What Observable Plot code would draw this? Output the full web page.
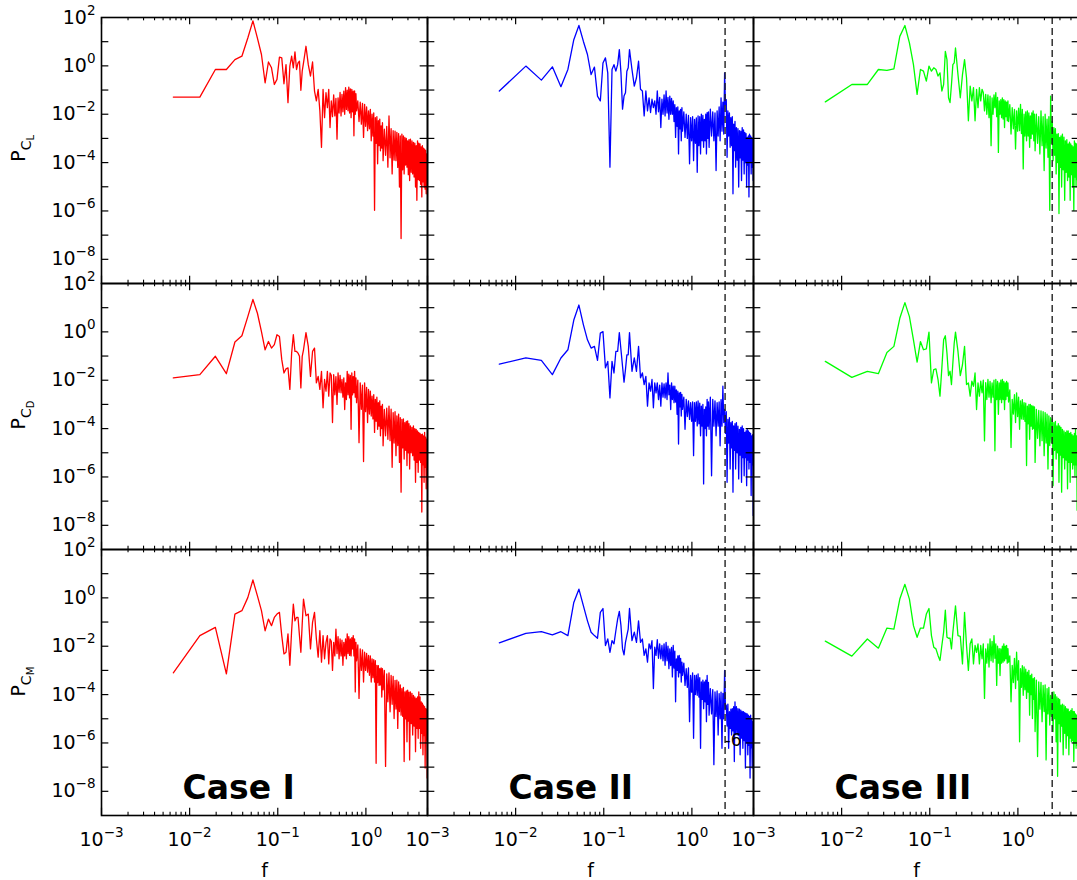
<!DOCTYPE html>
<html><head><meta charset="utf-8">
<script src="https://cdn.jsdelivr.net/npm/d3@7"></script>
<script src="https://cdn.jsdelivr.net/npm/@observablehq/plot@0.6"></script>
<style>
html,body{margin:0;padding:0;background:#fff;overflow:hidden;}
#chart{position:relative;width:1077px;height:880px;overflow:hidden;}
#err{color:red;font:16px sans-serif;position:absolute;top:0;left:0;}
</style></head><body><div id="chart"></div><div id="err"></div>
<script>
// ---------- data ----------
const cases = ["Case I", "Case II", "Case III"];
const coefs = ["C_L", "C_D", "C_M"];
const caseColors = ["#ff0000", "#0000ff", "#00ff00"];
const df = 0.00653;           // frequency resolution
const harmonics = [
  1,2,3,4,5,6,7,8,9,10,
  11,12,13,14,15,16,17,18,19,20,
  21,22,23,24,25,26,27,28,29,30,
  32,34,36,38,40,42,44,46,48,50,52,54,56,58,60,
  62,64,66,68,70,72,74,76,78,80,82,84,86,88,90,92,94,96,98,100,102,104,106,108,110,112,114,116,118,120,
  124,128,132,136,140,144,148,152,156,160,164,168,172,176,180,184,188,192,196,200,204,208,212,216,220,224,228,232,236,240,
  248,256,264,272,280,288,296,304,312,320,328,336,344,352,360,368,376,384,392,400,408,416,424,432,440,448,456,464,472,480,
  490,500,510,520,530,540,550,560,570,580,590,600,610,620,630,640,650,660,670,680,690,700,710,720,730,740,750,760];

// log10 of power spectral density
const logP_CL_I = [
  -1.29,-1.29,-0.15,-0.15,0.26,0.40,1.15,1.86,1.15,0.47,
  -0.70,0.16,-0.08,-0.77,-0.56,0.36,0.33,-0.74,0.05,-1.52,
  -0.01,0.40,-0.08,0.58,-0.15,0.12,0.19,-1.01,-0.22,0.12,
  0.81,0.05,-0.42,0.16,-1.04,-1.45,-0.97,-1.86,-3.37,-0.97,-2.14,-1.11,-1.73,-0.97,-2.55,
  -1.45,-2.10,-1.20,-2.07,-1.35,-3.03,-1.32,-1.95,-1.10,-2.07,-1.18,-1.90,-1.05,-2.00,-0.90,-1.80,-1.00,-1.86,-0.88,-1.95,-0.95,-2.14,-0.97,-1.90,-1.05,-2.89,-1.04,-2.00,-1.15,-1.86,
  -1.45,-2.30,-1.50,-2.41,-1.55,-2.96,-1.59,-2.50,-1.70,-2.68,-1.86,-2.60,-1.80,-3.10,-2.00,-2.90,-1.95,-5.97,-2.14,-3.20,-2.10,-4.05,-2.27,-3.30,-2.20,-3.51,-2.48,-3.40,-2.35,-3.92,
  -2.62,-3.70,-2.50,-4.19,-2.07,-3.80,-2.60,-4.47,-2.68,-3.90,-2.70,-3.92,-2.75,-4.20,-2.80,-5.01,-2.90,-7.14,-2.82,-4.30,-2.90,-4.47,-2.96,-4.10,-3.00,-4.19,-3.10,-4.50,-3.05,-4.74,
  -3.03,-4.40,-3.10,-4.47,-3.16,-4.60,-3.20,-5.01,-3.30,-5.56,-3.10,-4.70,-3.20,-4.74,-3.23,-4.90,-3.35,-5.42,-3.30,-4.80,-3.40,-5.01,-3.44,-5.10,-3.50,-5.29,-3.64,-5.00];
const logP_CL_II = [
  -1.04,-0.01,-0.59,-0.04,-0.86,-0.15,1.08,1.67,1.01,0.47,
  -0.36,-0.05,-1.25,-1.45,0.12,0.33,-0.29,-4.19,-0.15,0.05,
  -0.22,0.05,0.67,-0.29,-1.79,-1.25,-1.11,-0.22,-0.08,0.67,
  -0.15,-0.84,-0.49,0.19,-0.97,-1.04,-2.07,-1.04,-1.86,-1.32,-1.93,-1.38,-1.73,-1.45,-2.00,
  -1.04,-1.90,-1.30,-2.55,-1.38,-2.00,-1.20,-2.07,-1.04,-1.95,-1.30,-2.21,-1.25,-2.00,-1.35,-2.00,-1.45,-2.30,-1.60,-2.96,-1.73,-2.50,-1.70,-3.64,-1.86,-2.60,-1.80,-3.10,-1.73,-2.70,
  -1.90,-2.96,-2.00,-3.00,-2.05,-4.05,-2.14,-3.10,-2.10,-3.92,-2.21,-3.20,-2.15,-4.40,-2.07,-3.30,-2.10,-3.64,-2.00,-3.10,-2.05,-3.37,-2.21,-3.10,-2.00,-3.64,-1.93,-3.00,-1.90,-3.37,
  -1.79,-2.90,-1.90,-3.10,-1.95,-4.33,-1.86,-2.90,-1.70,-3.10,-1.32,-2.70,-1.50,-2.82,-0.29,-1.60,-1.40,-3.78,-1.86,-2.90,-1.95,-3.37,-2.14,-3.30,-2.10,-5.29,-2.41,-3.50,-2.30,-4.19,
  -2.55,-3.90,-2.60,-5.01,-2.68,-3.80,-2.70,-4.74,-2.55,-3.90,-2.65,-4.47,-2.75,-4.00,-2.80,-5.01,-2.96,-4.10,-2.90,-5.42,-2.82,-4.00,-2.90,-4.47,-2.96,-4.20,-3.00,-4.74];
const logP_CL_III = [
  -1.49,-0.77,-0.77,-0.15,-0.19,-0.12,1.22,1.67,0.95,0.05,
  -1.18,-0.15,-0.22,-0.63,-0.01,-0.22,-0.08,-0.15,-0.42,-0.29,
  -1.04,-0.77,0.60,0.26,-1.32,-1.52,-0.77,0.05,0.12,0.74,
  -0.36,-1.32,-0.36,0.26,-0.49,-2.27,-0.84,-1.45,-0.90,-2.27,-0.97,-1.73,-0.90,-1.45,-0.97,
  -1.10,-1.86,-1.18,-2.00,-1.20,-2.14,-1.25,-3.30,-1.32,-2.00,-1.20,-1.73,-1.11,-2.10,-1.30,-3.58,-1.45,-2.00,-1.40,-2.14,-1.32,-2.20,-1.40,-2.55,-1.45,-2.10,-1.50,-2.27,-1.45,-2.30,
  -1.60,-2.82,-1.73,-2.60,-1.80,-3.44,-1.86,-2.70,-1.75,-2.68,-1.59,-2.80,-1.80,-4.26,-2.00,-2.90,-1.90,-3.10,-1.86,-2.90,-1.95,-3.37,-2.07,-3.00,-1.95,-2.82,-1.86,-3.10,-2.00,-3.51,
  -2.00,-3.20,-2.10,-3.64,-1.86,-3.30,-2.10,-4.33,-2.00,-3.40,-2.20,-3.78,-2.10,-5.97,-1.25,-3.20,-2.30,-3.92,-2.55,-3.70,-2.60,-4.47,-2.82,-4.00,-2.80,-6.11,-2.96,-4.20,-2.90,-5.01,
  -2.82,-4.30,-2.95,-5.56,-3.10,-4.40,-3.05,-4.74,-3.23,-4.60,-3.15,-5.56,-3.23,-4.50,-3.30,-5.01,-3.35,-5.97,-3.10,-4.60,-3.20,-5.01,-3.23,-4.70,-3.30,-5.15,-3.37,-4.80];
const logP_CD_I = [
  -1.90,-1.77,-1.01,-1.73,-0.42,-0.16,0.63,1.34,0.77,0.01,
  -0.74,-0.40,-0.67,-0.53,-0.12,-0.19,-1.15,-1.70,-1.53,-1.49,
  -2.38,-0.88,-0.12,-0.81,-0.81,-0.88,-1.01,-2.32,-1.01,-0.74,
  -0.03,-0.60,-1.84,-0.81,-0.67,-2.11,-1.84,-2.38,-1.63,-3.14,-1.97,-2.45,-1.63,-2.66,-1.70,
  -1.80,-3.75,-1.77,-2.60,-1.85,-3.00,-1.70,-2.50,-1.80,-2.52,-1.97,-2.70,-1.90,-3.21,-2.11,-2.80,-1.63,-2.60,-1.75,-2.73,-1.80,-4.03,-1.70,-2.60,-1.85,-2.52,-1.63,-2.70,-1.90,-2.93,
  -2.00,-4.58,-2.11,-3.20,-2.20,-5.36,-2.11,-3.30,-2.30,-3.75,-2.38,-3.40,-2.45,-3.48,-2.66,-3.60,-2.60,-4.16,-2.79,-3.70,-2.70,-4.03,-2.93,-3.90,-2.85,-4.30,-3.07,-4.00,-3.00,-4.71,
  -3.21,-4.30,-3.15,-4.44,-3.07,-4.50,-3.20,-5.60,-3.34,-4.60,-3.30,-5.12,-3.48,-4.70,-3.40,-5.40,-3.55,-6.63,-3.62,-4.80,-3.60,-5.26,-3.75,-4.90,-3.70,-5.53,-3.68,-5.00,-3.80,-5.67,
  -3.89,-5.00,-3.95,-5.12,-3.89,-5.30,-4.00,-6.22,-4.03,-5.40,-4.10,-5.81,-4.16,-5.30,-4.20,-5.40,-4.25,-7.45,-4.23,-5.50,-4.30,-6.22,-4.16,-5.60,-4.35,-6.49,-4.44,-5.80];
const logP_CD_II = [
  -1.33,-1.08,-1.18,-1.77,-1.08,-0.74,0.49,1.11,0.29,-0.33,
  -0.67,-0.60,-1.18,-0.05,0.01,-1.49,-1.22,-2.73,-1.22,-1.70,
  -0.81,-0.81,-0.03,-0.74,-1.42,-2.08,-1.56,-0.95,-0.95,-0.03,
  -1.63,-1.08,-1.63,-0.60,-1.90,-1.70,-2.18,-1.84,-3.07,-2.11,-2.45,-1.97,-3.14,-2.11,-2.52,
  -2.11,-2.80,-2.20,-3.07,-2.11,-2.70,-2.15,-2.73,-2.11,-2.80,-1.70,-2.60,-2.20,-3.21,-2.11,-2.80,-2.25,-2.93,-2.25,-2.90,-2.40,-3.41,-2.45,-4.64,-2.52,-3.10,-2.50,-3.48,-2.59,-3.20,
  -2.70,-4.03,-2.79,-3.50,-2.85,-3.62,-2.93,-3.70,-2.90,-5.12,-2.93,-3.70,-2.90,-3.89,-2.86,-3.80,-2.95,-4.30,-3.07,-3.90,-3.00,-6.29,-3.21,-4.00,-3.10,-4.30,-2.79,-3.90,-2.90,-4.03,
  -2.70,-5.95,-2.79,-3.90,-2.85,-4.30,-2.93,-3.90,-2.90,-4.71,-2.80,-3.90,-2.25,-3.75,-3.21,-4.20,-3.30,-6.22,-3.62,-4.60,-3.55,-5.67,-3.75,-4.80,-3.70,-6.63,-3.89,-4.90,-3.80,-5.67,
  -3.75,-5.00,-3.90,-6.08,-4.03,-5.10,-3.95,-6.22,-3.89,-5.20,-4.00,-5.95,-4.16,-5.20,-4.10,-6.36,-4.03,-5.30,-4.10,-5.67,-4.16,-5.40,-4.20,-6.77,-4.30,-5.50,-4.25,-7.59];
const logP_CD_III = [
  -1.22,-1.88,-1.63,-1.73,-0.85,-0.60,0.56,1.21,0.63,-0.33,
  -1.25,-0.40,-0.74,-0.70,-0.01,-2.11,-1.56,-1.53,-1.97,-2.66,
  -1.49,-0.33,-0.16,-0.88,-1.81,-1.63,-2.18,-1.29,-0.47,-0.01,
  -0.81,-1.81,-1.36,-0.60,-2.18,-2.11,-2.66,-2.04,-2.25,-1.70,-3.21,-2.11,-2.66,-2.04,-2.52,
  -2.00,-4.51,-2.10,-2.80,-1.97,-2.70,-2.05,-2.93,-2.11,-2.70,-2.00,-4.92,-1.97,-2.80,-2.05,-3.41,-2.11,-2.80,-2.00,-2.93,-1.97,-2.80,-2.05,-3.21,-2.11,-2.80,-2.05,-2.66,-2.11,-2.90,
  -2.40,-4.78,-2.79,-3.40,-2.60,-3.75,-2.52,-3.50,-2.70,-4.03,-2.86,-3.60,-2.80,-3.62,-2.93,-3.70,-2.95,-5.53,-3.07,-3.80,-3.00,-4.44,-3.00,-3.90,-3.05,-4.03,-3.07,-4.00,-3.10,-5.40,
  -3.21,-4.40,-3.25,-4.71,-3.27,-4.50,-3.30,-5.12,-3.34,-4.60,-3.40,-5.67,-3.48,-4.70,-3.55,-4.58,-3.60,-6.36,-3.75,-4.90,-3.70,-5.26,-3.89,-5.00,-3.80,-6.22,-3.89,-5.10,-3.95,-6.63,
  -4.03,-5.20,-4.10,-5.67,-4.16,-5.30,-4.10,-6.49,-4.10,-5.40,-4.20,-6.22,-4.16,-5.40,-4.25,-5.67,-4.30,-5.50,-4.20,-5.95,-4.03,-5.50,-4.30,-7.38,-4.44,-5.60,-4.35,-6.22];
const logP_CM_I = [
  -3.10,-1.56,-1.22,-3.14,-0.67,-0.53,0.01,0.74,0.08,-0.53,
  -1.36,-0.88,-1.15,-0.81,-0.67,-0.60,-1.56,-2.32,-2.25,-1.49,
  -2.79,-1.36,-0.26,-0.95,-0.81,-0.81,-1.56,-2.25,-1.08,-0.05,
  -0.74,-0.67,-2.11,-1.01,-0.60,-1.70,-2.45,-1.36,-2.66,-1.56,-2.52,-1.84,-1.56,-2.73,-1.70,
  -1.80,-3.00,-1.84,-2.40,-1.29,-2.30,-1.60,-2.52,-1.70,-2.40,-1.75,-2.79,-1.84,-2.40,-1.70,-2.52,-1.49,-2.30,-1.60,-2.38,-1.70,-2.40,-1.65,-2.11,-1.56,-2.40,-1.70,-3.89,-1.84,-2.60,
  -1.95,-4.16,-2.11,-3.00,-2.15,-3.48,-2.25,-3.00,-2.30,-3.07,-2.38,-3.20,-2.40,-3.48,-2.52,-3.30,-2.55,-3.48,-2.60,-6.84,-2.79,-3.50,-2.80,-3.62,-2.93,-3.60,-2.90,-4.10,-2.93,-3.80,
  -3.00,-6.97,-3.14,-4.30,-3.10,-4.71,-3.21,-4.40,-3.25,-4.99,-3.41,-4.60,-3.40,-5.40,-3.48,-4.70,-3.60,-4.85,-3.75,-4.90,-3.70,-6.77,-3.89,-5.00,-3.85,-5.95,-3.82,-5.10,-3.90,-6.70,
  -3.89,-5.20,-3.95,-5.67,-4.03,-5.30,-4.10,-6.36,-4.16,-5.40,-4.10,-5.81,-3.89,-5.40,-4.10,-6.22,-4.30,-5.60,-4.35,-6.49,-4.44,-5.70,-4.50,-7.04,-4.58,-5.90,-4.60,-7.45];
const logP_CM_II = [
  -1.86,-1.47,-1.40,-1.53,-1.40,-1.56,-0.19,0.36,-0.33,-0.95,
  -1.42,-1.56,-1.67,-0.60,-0.44,-1.97,-1.70,-2.25,-1.77,-1.90,
  -1.36,-0.88,-0.56,-1.15,-2.11,-2.36,-1.84,-1.56,-1.29,-0.44,
  -1.77,-1.42,-1.84,-0.95,-1.84,-1.70,-2.38,-2.11,-2.66,-1.90,-2.11,-1.77,-3.75,-2.04,-2.38,
  -1.73,-2.50,-1.90,-2.52,-1.97,-2.60,-1.90,-2.79,-1.84,-2.60,-2.00,-2.93,-2.11,-2.80,-2.05,-3.27,-1.97,-2.90,-2.20,-4.30,-2.52,-3.00,-2.40,-3.27,-2.38,-3.10,-2.50,-3.48,-2.66,-3.20,
  -2.70,-3.62,-2.93,-3.70,-2.90,-5.12,-3.21,-3.90,-3.10,-5.81,-3.21,-4.00,-3.20,-4.03,-3.14,-4.10,-3.30,-6.22,-3.48,-4.20,-3.40,-4.58,-3.48,-4.30,-3.40,-5.12,-3.21,-4.40,-3.50,-4.85,
  -3.75,-4.80,-3.80,-6.90,-3.89,-4.90,-3.85,-5.67,-3.96,-5.00,-3.90,-6.22,-3.95,-5.00,-3.00,-4.58,-4.44,-5.30,-4.40,-6.22,-4.71,-5.40,-4.60,-5.67,-4.58,-5.50,-4.50,-6.77,-4.30,-5.60,
  -4.50,-5.67,-4.58,-5.70,-4.60,-6.49,-4.64,-5.80,-4.70,-6.22,-4.71,-5.90,-4.75,-7.04,-4.78,-6.00,-4.80,-6.49,-4.85,-6.10,-4.90,-7.45,-4.85,-6.20,-5.00,-7.04,-5.12,-6.30];
const logP_CM_III = [
  -1.79,-2.41,-1.70,-2.08,-1.25,-1.29,-0.05,0.56,-0.05,-1.15,
  -1.63,-1.25,-1.25,-0.67,-0.44,-1.56,-2.04,-2.11,-2.38,-2.59,
  -1.97,-1.42,-0.51,-1.63,-1.67,-1.67,-2.11,-1.42,-0.88,-0.33,
  -1.56,-1.59,-2.73,-0.60,-1.97,-3.00,-1.90,-1.70,-2.73,-1.97,-2.25,-1.90,-2.73,-1.97,-2.52,
  -1.90,-4.16,-2.11,-2.70,-1.90,-2.86,-1.70,-2.60,-1.80,-2.66,-1.56,-2.50,-1.90,-3.62,-2.00,-2.70,-2.10,-3.21,-2.11,-2.70,-2.00,-2.66,-1.90,-2.60,-2.00,-2.52,-1.97,-2.70,-2.10,-2.66,
  -2.40,-4.30,-2.79,-3.50,-2.50,-3.75,-2.25,-3.40,-2.60,-5.95,-2.93,-3.70,-2.80,-4.03,-2.86,-3.80,-2.95,-4.16,-3.07,-3.90,-3.00,-4.85,-3.21,-4.00,-3.15,-4.99,-3.34,-4.20,-3.30,-5.53,
  -3.40,-6.56,-3.48,-4.60,-3.50,-5.12,-3.62,-4.70,-3.60,-6.70,-3.75,-4.80,-3.70,-5.26,-4.03,-4.90,-3.90,-5.53,-3.89,-5.00,-4.00,-5.95,-4.10,-7.38,-4.16,-5.20,-4.20,-5.95,-4.44,-5.30,
  -4.40,-6.49,-4.44,-5.60,-4.50,-6.22,-4.58,-5.70,-4.60,-6.49,-4.71,-5.80,-4.65,-5.95,-4.58,-5.90,-4.70,-6.77,-4.71,-6.00,-4.80,-6.22,-4.85,-6.10,-4.90,-7.32,-4.99,-6.20];

const dashCases = ["Case II", "Case III"];
const dashF = [2.38, 2.45];
const xTicksMajor = [1e-3, 1e-2, 1e-1, 1];
const xTicksMinor = [2e-3,3e-3,4e-3,5e-3,6e-3,7e-3,8e-3,9e-3,
  2e-2,3e-2,4e-2,5e-2,6e-2,7e-2,8e-2,9e-2,
  0.2,0.3,0.4,0.5,0.6,0.7,0.8,0.9, 2,3,4];
const yTicksMajor = [1e1,1e0,1e-1,1e-2,1e-3,1e-4,1e-5,1e-6,1e-7,1e-8];
const yTickLabels = [1e2,1e0,1e-2,1e-4,1e-6,1e-8];

// ---------- build table ----------
const seriesTable = [
  ["C_L","Case I",logP_CL_I],["C_L","Case II",logP_CL_II],["C_L","Case III",logP_CL_III],
  ["C_D","Case I",logP_CD_I],["C_D","Case II",logP_CD_II],["C_D","Case III",logP_CD_III],
  ["C_M","Case I",logP_CM_I],["C_M","Case II",logP_CM_II],["C_M","Case III",logP_CM_III]];
const rows = [];
const errs = [];
for (const [coef, cs, arr] of seriesTable) {
  if (arr.length !== harmonics.length) errs.push(coef + " " + cs + ": " + arr.length + "/" + harmonics.length);
  arr.forEach((v, i) => { if (i < harmonics.length) rows.push({coef, case: cs, f: harmonics[i] * df, p: Math.pow(10, v)}); });
}
if (errs.length) document.getElementById("err").textContent = "LEN " + errs.join("; ");
const dashRows = dashCases.map((c, i) => ({case: c, f: dashF[i]}));

// ---------- layout ----------
const W = 1084, H = 880, ML = 99.5, MR = 4.5, MT = 16, MB = 64;
const panelW = (W - ML - MR) / 3, panelH = (H - MT - MB) / 3;
const fmt = d => "10^" + Math.round(Math.log10(d));

const chart = Plot.plot({
  width: W, height: H,
  marginLeft: ML, marginRight: MR, marginTop: MT, marginBottom: MB,
  style: {fontFamily: "DejaVu Sans", fontSize: "19px", background: "white", maxWidth: "none", overflow: "visible"},
  fx: {domain: cases, padding: 0, axis: null},
  fy: {domain: coefs, padding: 0, axis: null},
  x: {type: "log", domain: [1e-3, 5]},
  y: {type: "log", domain: [1e-9, 1e2]},
  color: {domain: cases, range: caseColors},
  marks: [
    Plot.line(rows, {x: "f", y: "p", fx: "case", fy: "coef", stroke: "case", strokeWidth: 1.3}),
    Plot.ruleX(dashRows, {x: "f", fx: "case", stroke: "#222", strokeWidth: 1.4, strokeDasharray: "7,4"}),
    Plot.tickY(yTicksMajor, {y: d => d, insetRight: panelW - 8, stroke: "black", strokeWidth: 1.2}),
    Plot.tickY(yTicksMajor, {y: d => d, insetLeft: panelW - 8, stroke: "black", strokeWidth: 1.2}),
    Plot.tickX(xTicksMajor, {x: d => d, insetBottom: panelH - 8, stroke: "black", strokeWidth: 1.2}),
    Plot.tickX(xTicksMajor, {x: d => d, insetTop: panelH - 8, stroke: "black", strokeWidth: 1.2}),
    Plot.tickX(xTicksMinor, {x: d => d, insetBottom: panelH - 4, stroke: "black", strokeWidth: 1.1}),
    Plot.tickX(xTicksMinor, {x: d => d, insetTop: panelH - 4, stroke: "black", strokeWidth: 1.1}),
    Plot.frame({stroke: "black", strokeWidth: 1.6}),
    Plot.axisX({ticks: xTicksMajor, tickFormat: fmt, tickSize: 0, tickPadding: 17, anchor: "bottom", facetAnchor: "bottom", label: null, fontSize: 19}),
    Plot.axisY({ticks: yTickLabels, tickFormat: fmt, tickSize: 0, tickPadding: 6, anchor: "left", facetAnchor: "left", label: null, fontSize: 19}),
    Plot.text(cases, {fx: d => d, fy: () => "C_M", text: d => d, frameAnchor: "bottom-left", dx: 81, dy: -17,
      textAnchor: "start", lineAnchor: "bottom", fontSize: 33, fontWeight: "bold"}),
    Plot.text(cases, {fx: d => d, fy: () => "C_M", text: () => "f", frameAnchor: "bottom", dy: 61, lineAnchor: "bottom", fontSize: 19}),
    Plot.text(["-6"], {fx: () => "Case II", fy: () => "C_M", text: d => d, frameAnchor: "top-left", dx: 297, dy: 196,
      textAnchor: "start", lineAnchor: "bottom", fontSize: 17})
  ]
});
document.getElementById("chart").appendChild(chart);

// superscript exponents in tick labels
d3.select(chart).selectAll("text").each(function () {
  const t = this.textContent;
  if (t && t.startsWith("10^")) {
    const e = t.slice(3).replace("-", "\u2212");
    this.textContent = "10";
    const ts = document.createElementNS("http://www.w3.org/2000/svg", "tspan");
    ts.setAttribute("dy", "-9");
    ts.setAttribute("font-size", "13.5");
    ts.textContent = e;
    this.appendChild(ts);
  }
});

// y-axis titles P_{C_L}, P_{C_D}, P_{C_M}
const svg = d3.select(chart);
coefs.forEach((c, i) => {
  const cy = MT + panelH * (i + 0.5) - 1, cx = 25;
  const t = svg.append("text")
    .attr("transform", `translate(${cx},${cy}) rotate(-90)`)
    .attr("text-anchor", "middle")
    .attr("fill", "black")
    .style("font-family", "DejaVu Sans").style("font-size", "19px");
  t.append("tspan").text("P");
  t.append("tspan").attr("dy", 6).style("font-size", "14px").text("C");
  t.append("tspan").attr("dy", 3).style("font-size", "10px").text(c.slice(2));
});
</script>
</body></html>
